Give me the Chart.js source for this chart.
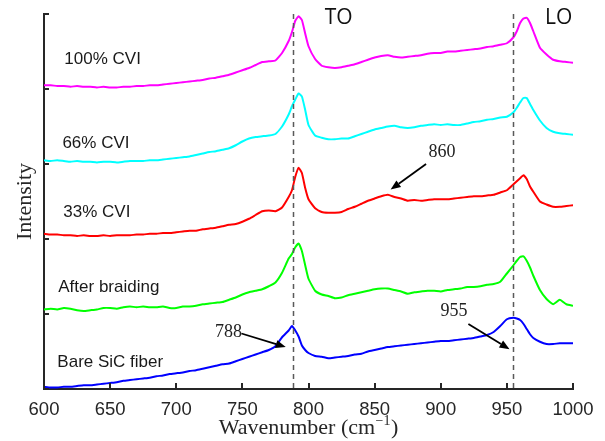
<!DOCTYPE html>
<html>
<head>
<meta charset="utf-8">
<script src="https://cdn.jsdelivr.net/npm/chart.js@4.4.1/dist/chart.umd.min.js"></script>
<style>
  html, body { margin: 0; padding: 0; background: #ffffff; }
  #wrap { width: 605px; height: 441px; }
</style>
</head>
<body>
<div id="wrap"><canvas id="c" width="605" height="441"></canvas></div>
<script>
// ---- data ----
const wavenumbers = [600,605,610,615,620,625,630,635,640,645,
  650,655,660,665,670,675,680,685,690,695,
  700,705,710,715,720,725,730,735,740,745,
  750,755,760,765,770,775,780,785,787.5,790,792.5,795,797.5,
  800,805,810,815,820,825,830,835,840,845,
  850,855,860,865,870,875,880,885,890,895,
  900,905,910,915,920,925,930,935,940,945,
  950,955,957.5,960,962.5,965,967.5,970,975,980,985,990,995,1000];

const cvi100 = [4.05,4.05,4.04,4.04,4.03,4.04,4.03,4.03,4.02,4.03,
  4.02,4.02,4.03,4.03,4.04,4.04,4.05,4.05,4.06,4.07,
  4.08,4.09,4.10,4.11,4.12,4.14,4.15,4.17,4.19,4.22,
  4.25,4.28,4.32,4.36,4.37,4.38,4.48,4.64,4.76,4.91,4.97,4.92,4.74,
  4.57,4.40,4.31,4.29,4.28,4.29,4.31,4.33,4.36,4.39,
  4.42,4.44,4.45,4.43,4.42,4.43,4.44,4.45,4.47,4.48,
  4.48,4.50,4.50,4.51,4.52,4.53,4.54,4.56,4.57,4.59,
  4.61,4.69,4.77,4.88,4.94,4.95,4.88,4.77,4.55,4.46,4.39,4.37,4.36,4.35];

const cvi66 = [3.05,3.04,3.05,3.04,3.03,3.04,3.03,3.03,3.02,3.03,
  3.03,3.02,3.03,3.04,3.04,3.04,3.05,3.05,3.06,3.07,
  3.08,3.09,3.10,3.12,3.14,3.16,3.17,3.19,3.21,3.25,
  3.30,3.34,3.36,3.37,3.38,3.40,3.50,3.66,3.77,3.86,3.94,3.90,3.72,
  3.52,3.38,3.35,3.33,3.33,3.34,3.34,3.37,3.40,3.43,
  3.46,3.48,3.50,3.51,3.49,3.48,3.49,3.51,3.52,3.53,
  3.52,3.53,3.52,3.52,3.54,3.56,3.57,3.59,3.60,3.62,
  3.63,3.69,3.75,3.82,3.88,3.88,3.80,3.72,3.58,3.48,3.43,3.41,3.40,3.39];

const cvi33 = [2.07,2.06,2.06,2.05,2.05,2.04,2.05,2.04,2.04,2.05,
  2.04,2.05,2.05,2.05,2.06,2.06,2.07,2.07,2.08,2.08,
  2.09,2.10,2.11,2.11,2.13,2.14,2.15,2.17,2.19,2.20,
  2.23,2.27,2.32,2.37,2.38,2.37,2.42,2.56,2.65,2.83,2.95,2.88,2.68,
  2.53,2.41,2.36,2.35,2.35,2.36,2.40,2.43,2.47,2.51,
  2.54,2.57,2.59,2.56,2.54,2.51,2.52,2.51,2.52,2.53,
  2.53,2.53,2.54,2.55,2.56,2.57,2.57,2.58,2.59,2.62,
  2.65,2.73,2.77,2.81,2.85,2.80,2.70,2.63,2.50,2.46,2.43,2.43,2.44,2.45];

const braided = [1.06,1.07,1.06,1.08,1.07,1.05,1.04,1.05,1.06,1.08,
  1.08,1.07,1.09,1.10,1.09,1.10,1.09,1.09,1.10,1.08,
  1.08,1.10,1.10,1.11,1.13,1.14,1.15,1.16,1.19,1.22,
  1.26,1.29,1.31,1.33,1.37,1.42,1.55,1.74,1.80,1.89,1.94,1.84,1.65,
  1.47,1.31,1.26,1.24,1.21,1.22,1.25,1.27,1.29,1.31,
  1.33,1.34,1.34,1.32,1.30,1.27,1.29,1.30,1.31,1.31,
  1.30,1.32,1.33,1.34,1.36,1.36,1.37,1.39,1.40,1.43,
  1.54,1.65,1.71,1.76,1.77,1.71,1.62,1.51,1.32,1.20,1.13,1.19,1.13,1.11];

const bareFiber = [0.03,0.02,0.02,0.03,0.03,0.04,0.05,0.05,0.06,0.07,
  0.08,0.09,0.11,0.12,0.13,0.14,0.15,0.17,0.18,0.20,
  0.21,0.22,0.24,0.25,0.27,0.29,0.31,0.33,0.34,0.37,
  0.40,0.43,0.46,0.49,0.52,0.57,0.69,0.78,0.84,0.78,0.70,0.58,0.52,
  0.48,0.44,0.43,0.41,0.42,0.43,0.44,0.46,0.47,0.50,
  0.52,0.54,0.56,0.57,0.58,0.59,0.60,0.61,0.62,0.63,
  0.64,0.64,0.65,0.66,0.67,0.68,0.70,0.72,0.76,0.84,
  0.93,0.95,0.94,0.92,0.87,0.80,0.73,0.68,0.63,0.60,0.60,0.61,0.61,0.61];

const seriesNames = ['100% CVI', '66% CVI', '33% CVI', 'After braiding', 'Bare SiC fiber'];
const peakLines = [788, 955];           // dashed reference lines (cm^-1)
const peakLabels = ['TO', 'LO'];
const xTickValues = [600,650,700,750,800,850,900,950,1000];
const yTickValues = [0,1,2,3,4,5];
const arrowNotes = ['860', '788', '955'];

// ---- layout / style (kept separate from the data) ----
const colors = ['#ff00ff', '#00ffff', '#ff0000', '#00ff00', '#0000ff'];
const seriesValues = [cvi100, cvi66, cvi33, braided, bareFiber];
// label anchors in data coordinates [wavenumber, intensity]
const seriesLabelAt = [[615.4, 4.39], [613.9, 3.27], [614.6, 2.35], [610.8, 1.35], [610.1, 0.36]];
const peakLabelAt = [[812.3, 4.95], [978.9, 4.95]];
const arrowGeom = [
  {text: [901.0, 3.15], tail: [888.9, 3.00], tip: [862.1, 2.66]},
  {text: [739.6, 0.76], tail: [749.3, 0.74], tip: [782.8, 0.56]},
  {text: [910.1, 1.03], tail: [920.9, 0.867], tip: [952.0, 0.53]}
];

const datasets = seriesValues.map((vals, i) => ({
  label: seriesNames[i],
  data: wavenumbers.map((w, k) => ({x: w, y: vals[k]})),
  borderColor: colors[i],
  backgroundColor: colors[i],
  borderWidth: 2,
  pointRadius: 0,
  tension: 0.15,
  fill: false
}));

const AXIS = '#262626';

const decor = {
  id: 'decor',
  afterDatasetsDraw(chart) {
    const {ctx, chartArea} = chart;
    const xs = chart.scales.x, ys = chart.scales.y;
    const P = (w, v) => [xs.getPixelForValue(w), ys.getPixelForValue(v)];
    ctx.save();

    // dashed reference lines
    ctx.strokeStyle = '#5a5a5a';
    ctx.lineWidth = 1.5;
    ctx.setLineDash([5, 4]);
    peakLines.forEach(w => {
      const px = Math.round(xs.getPixelForValue(w)) + 0.5;
      ctx.beginPath();
      ctx.moveTo(px, chartArea.top);
      ctx.lineTo(px, chartArea.bottom);
      ctx.stroke();
    });
    ctx.setLineDash([]);

    // inward tick marks
    ctx.strokeStyle = AXIS;
    ctx.lineWidth = 2;
    xTickValues.forEach(w => {
      const px = Math.round(xs.getPixelForValue(w));
      ctx.beginPath();
      ctx.moveTo(px, chartArea.bottom);
      ctx.lineTo(px, chartArea.bottom - 6);
      ctx.stroke();
    });
    yTickValues.forEach(v => {
      const py = Math.round(ys.getPixelForValue(v));
      ctx.beginPath();
      ctx.moveTo(chartArea.left, py);
      ctx.lineTo(chartArea.left + 5, py);
      ctx.stroke();
    });

    // series labels
    ctx.fillStyle = '#1a1a1a';
    ctx.textBaseline = 'middle';
    ctx.textAlign = 'left';
    ctx.font = '17px "Liberation Sans", Arial, sans-serif';
    seriesNames.forEach((t, i) => {
      const [px, py] = P(seriesLabelAt[i][0], seriesLabelAt[i][1]);
      ctx.fillText(t, px, py);
    });

    // TO / LO
    ctx.fillStyle = '#111';
    ctx.font = '21px "Open Sans", "Liberation Sans", sans-serif';
    peakLabels.forEach((t, i) => {
      const [px, py] = P(peakLabelAt[i][0], peakLabelAt[i][1]);
      ctx.fillText(t, px, py);
    });

    // arrows with notes
    ctx.font = '18px "Liberation Serif", "Times New Roman", serif';
    ctx.strokeStyle = '#000';
    arrowGeom.forEach((g, i) => {
      const [tx, ty] = P(g.text[0], g.text[1]);
      ctx.textAlign = 'center';
      ctx.fillStyle = '#222';
      ctx.fillText(arrowNotes[i], tx, ty);
      const [ax, ay] = P(g.tail[0], g.tail[1]);
      const [bx, by] = P(g.tip[0], g.tip[1]);
      const ang = Math.atan2(by - ay, bx - ax);
      const hl = 10, hw = 4;
      const baseX = bx - hl * Math.cos(ang), baseY = by - hl * Math.sin(ang);
      ctx.lineWidth = 1.8;
      ctx.beginPath();
      ctx.moveTo(ax, ay);
      ctx.lineTo(baseX, baseY);
      ctx.stroke();
      ctx.fillStyle = '#000';
      ctx.beginPath();
      ctx.moveTo(bx, by);
      ctx.lineTo(baseX + hw * Math.sin(ang), baseY - hw * Math.cos(ang));
      ctx.lineTo(baseX - hw * Math.sin(ang), baseY + hw * Math.cos(ang));
      ctx.closePath();
      ctx.fill();
    });

    // axis titles
    ctx.fillStyle = '#262626';
    ctx.textBaseline = 'alphabetic';
    const mainFont = '22px "Liberation Serif", "Times New Roman", serif';
    const supFont = '14px "Liberation Serif", "Times New Roman", serif';
    ctx.font = mainFont;
    const partA = 'Wavenumber (cm', partC = ')';
    const wA = ctx.measureText(partA).width, wC = ctx.measureText(partC).width;
    ctx.font = supFont;
    const partB = '\u22121';
    const wB = ctx.measureText(partB).width + 1;
    const total = wA + wB + wC;
    const cx = (chartArea.left + chartArea.right) / 2;
    const sx = cx - total / 2;
    const base = 434;
    ctx.textAlign = 'left';
    ctx.font = mainFont;
    ctx.fillText(partA, sx, base);
    ctx.font = supFont;
    ctx.fillText(partB, sx + wA + 0.5, base - 9);
    ctx.font = mainFont;
    ctx.fillText(partC, sx + wA + wB, base);

    ctx.save();
    ctx.translate(25, (chartArea.top + chartArea.bottom) / 2);
    ctx.rotate(-Math.PI / 2);
    ctx.textAlign = 'center';
    ctx.textBaseline = 'middle';
    ctx.font = mainFont;
    ctx.fillText('Intensity', 0, 0);
    ctx.restore();

    ctx.restore();
  }
};

new Chart(document.getElementById('c'), {
  type: 'line',
  data: { datasets },
  options: {
    responsive: false,
    animation: false,
    devicePixelRatio: 1,
    layout: { padding: { top: 14, right: 32, left: 0, bottom: 0 } },
    plugins: { legend: { display: false }, tooltip: { enabled: false } },
    scales: {
      x: {
        type: 'linear',
        min: 600, max: 1000,
        afterBuildTicks(s) { s.ticks = xTickValues.map(v => ({value: v})); },
        afterFit(s) { s.height = 52; },
        grid: { display: false, drawTicks: false },
        border: { display: true, color: AXIS, width: 2 },
        ticks: {
          color: '#262626',
          padding: 10,
          maxRotation: 0,
          callback: v => String(v),
          font: { family: '"Liberation Sans", Arial, sans-serif', size: 18.5 }
        }
      },
      y: {
        type: 'linear',
        min: 0, max: 5,
        afterBuildTicks(s) { s.ticks = yTickValues.map(v => ({value: v})); },
        afterFit(s) { s.width = 44; },
        grid: { display: false, drawTicks: false },
        border: { display: true, color: AXIS, width: 2 },
        ticks: { display: false }
      }
    }
  },
  plugins: [decor]
});
</script>
</body>
</html>
